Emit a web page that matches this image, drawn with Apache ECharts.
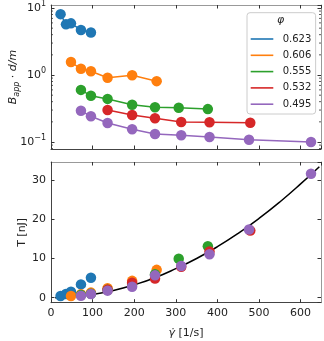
<!DOCTYPE html>
<html>
<head>
<meta charset="utf-8">
<script src="https://cdn.jsdelivr.net/npm/echarts@6/dist/echarts.min.js"></script>
<style>
  html, body { margin: 0; padding: 0; background: #fff; }
  #chart { width: 324px; height: 341px; }
</style>
</head>
<body>
<div id="chart"></div>
<script>
// legend entries (volume fraction phi) and their colours
var phiNames = ['0.623', '0.606', '0.555', '0.532', '0.495'];
var colors = ['#1f77b4', '#ff7f0e', '#2ca02c', '#d62728', '#9467bd'];

// shear rates [1/s] measured for each phi
var rate623 = [23, 36, 48, 72, 96];
var rate606 = [48, 72, 96, 136, 195, 254];
var rate555 = [72, 96, 136, 195, 250, 307, 377];
var rate532 = [136, 195, 250, 313, 381, 479];
var rate495 = [72, 96, 136, 195, 250, 313, 381, 476, 625];

// top panel: B_app * d/m (log scale)
var bapp623 = [8.1, 5.7, 5.9, 4.7, 4.3];
var bapp606 = [1.56, 1.24, 1.14, 0.91, 0.99, 0.81];
var bapp555 = [0.60, 0.49, 0.44, 0.36, 0.33, 0.325, 0.31];
var bapp532 = [0.30, 0.253, 0.226, 0.199, 0.197, 0.194];
var bapp495 = [0.293, 0.242, 0.192, 0.155, 0.132, 0.126, 0.119, 0.108, 0.100];

// bottom panel: T [nJ]
var tens623 = [0.43, 0.94, 1.53, 3.4, 5.1];
var tens606 = [0.43, 0.9, 1.3, 2.4, 4.3, 7.1];
var tens555 = [0.7, 1.0, 2.0, 3.5, 6.0, 9.95, 13.1];
var tens532 = [2.0, 3.8, 4.9, 7.9, 11.8, 17.1];
var tens495 = [0.5, 0.95, 1.8, 2.8, 5.7, 8.1, 11.1, 17.4, 31.6];

// black fit curve
var fitRate = [10, 50, 100, 150, 200, 250, 300, 350, 400, 450, 500, 550, 600, 645];
var fitT = [0, 0.25, 0.85, 1.85, 3.3, 5.1, 7.4, 10.0, 13.0, 16.4, 20.2, 24.4, 29.0, 33.4];

// minor ticks of the log axis
var minorTicks = [0.08, 0.09, 0.2, 0.3, 0.4, 0.5, 0.6, 0.7, 0.8, 0.9, 2, 3, 4, 5, 6, 7, 8, 9];

var rates = [rate623, rate606, rate555, rate532, rate495];
var bapps = [bapp623, bapp606, bapp555, bapp532, bapp495];
var tens = [tens623, tens606, tens555, tens532, tens495];

var font = 'DejaVu Sans';
var dark = '#444';
var light = '#999';

function zip(xs, ys) {
  return xs.map(function (x, i) { return [x, ys[i]]; });
}

function xAx(grid, pos, labels, lineColor) {
  return {
    type: 'value', gridIndex: grid, position: pos, min: 0, max: 649, interval: 100,
    axisLine: { show: true, onZero: false, lineStyle: { color: lineColor, width: 1 } },
    axisTick: { show: true, inside: true, length: 3.5, lineStyle: { color: '#333' } },
    axisLabel: { show: labels, showMaxLabel: false, margin: 5, fontSize: 11, color: '#222', fontFamily: font },
    splitLine: { show: false }
  };
}

function logAx(pos, labels, lineColor) {
  return {
    type: 'log', logBase: 10, gridIndex: 0, position: pos, min: 0.0787, max: 11.09,
    axisLine: { show: true, onZero: false, lineStyle: { color: lineColor, width: 1 } },
    axisTick: { show: true, inside: true, length: 3.5, lineStyle: { color: '#333' } },
    axisLabel: {
      show: labels, showMinLabel: false, showMaxLabel: false, margin: 5,
      formatter: function (v) {
        var e = Math.round(Math.log10(v));
        return '{b|10}{e|' + (e < 0 ? '\u2212' + (-e) : e) + '}';
      },
      rich: {
        b: { fontSize: 11, color: '#222', fontFamily: font, lineHeight: 16 },
        e: { fontSize: 8, color: '#222', fontFamily: font, lineHeight: 9, verticalAlign: 'top' }
      }
    },
    splitLine: { show: false }
  };
}

function linAx(pos, labels, lineColor) {
  return {
    type: 'value', gridIndex: 1, position: pos, min: -1.27, max: 34.59, splitNumber: 4,
    axisLine: { show: true, onZero: false, lineStyle: { color: lineColor, width: 1 } },
    axisTick: { show: true, inside: true, length: 3.5, lineStyle: { color: '#333' } },
    axisLabel: { show: labels, showMinLabel: false, showMaxLabel: false, margin: 5, fontSize: 11, color: '#222', fontFamily: font },
    splitLine: { show: false }
  };
}

var xAxes = [xAx(0, 'bottom', false, dark), xAx(0, 'top', false, light), xAx(1, 'bottom', true, dark), xAx(1, 'top', false, light)];
xAxes[2].name = '{g|\u03b3\u0307}{n| [1/s]}';
xAxes[2].nameLocation = 'middle';
xAxes[2].nameGap = 25;
xAxes[2].nameMoveOverlap = false;
xAxes[2].nameTextStyle = { rich: {
  g: { fontSize: 11, fontStyle: 'italic', fontFamily: font, color: '#222' },
  n: { fontSize: 11, fontFamily: font, color: '#222' }
} };

var yAxes = [logAx('left', true, dark), logAx('right', false, light), linAx('left', true, dark), linAx('right', false, light)];
yAxes[0].name = '{i|B}{s|app}{n| \u00b7 }{i|d/m}';
yAxes[0].nameLocation = 'middle';
yAxes[0].nameRotate = 90;
yAxes[0].nameGap = 30;
yAxes[0].nameMoveOverlap = false;
yAxes[0].nameTextStyle = { rich: {
  i: { fontSize: 11, fontStyle: 'italic', fontFamily: font, color: '#222', lineHeight: 16 },
  s: { fontSize: 8, fontStyle: 'italic', fontFamily: font, color: '#222', lineHeight: 9, verticalAlign: 'bottom' },
  n: { fontSize: 11, fontFamily: font, color: '#222', lineHeight: 16 }
} };
yAxes[2].name = 'T [nJ]';
yAxes[2].nameLocation = 'middle';
yAxes[2].nameRotate = 90;
yAxes[2].nameGap = 23;
yAxes[2].nameMoveOverlap = false;
yAxes[2].nameTextStyle = { fontSize: 11, fontFamily: font, color: '#222' };

var series = [];
// top panel: lines with markers
phiNames.forEach(function (name, k) {
  series.push({
    name: name, type: 'line', xAxisIndex: 0, yAxisIndex: 0,
    data: zip(rates[k], bapps[k]),
    symbol: 'circle', symbolSize: 10.5,
    itemStyle: { color: colors[k] },
    lineStyle: { color: colors[k], width: 1.5 },
    z: 3 + k
  });
});
// bottom panel: fit curve below the points
series.push({
  name: 'fit', type: 'line', xAxisIndex: 2, yAxisIndex: 2,
  data: zip(fitRate, fitT), smooth: true, showSymbol: false, symbol: 'none',
  lineStyle: { color: '#000', width: 1.5 }, z: 2
});
phiNames.forEach(function (name, k) {
  series.push({
    name: name, type: 'scatter', xAxisIndex: 2, yAxisIndex: 2,
    data: zip(rates[k], tens[k]), symbolSize: 10.5,
    itemStyle: { color: colors[k], opacity: 1 },
    z: 3 + k
  });
});
// minor ticks of the log axis, on both sides
series.push({
  name: 'minor', type: 'custom', xAxisIndex: 0, yAxisIndex: 0, silent: true, clip: false,
  data: minorTicks.map(function (v) { return [100, v]; }),
  renderItem: function (params, api) {
    var y = api.coord([100, api.value(1)])[1];
    var cs = params.coordSys;
    return { type: 'group', children: [
      { type: 'line', shape: { x1: cs.x, y1: y, x2: cs.x + 2, y2: y }, style: { stroke: '#333', lineWidth: 0.8 } },
      { type: 'line', shape: { x1: cs.x + cs.width - 2, y1: y, x2: cs.x + cs.width, y2: y }, style: { stroke: '#333', lineWidth: 0.8 } }
    ] };
  },
  z: 1
});

var chart = echarts.init(document.getElementById('chart'), null, { renderer: 'canvas' });
chart.setOption({
  animation: false,
  backgroundColor: '#fff',
  grid: [
    { left: 51, top: 5, width: 270, height: 144, outerBoundsMode: 'none', containLabel: false },
    { left: 51, top: 162, width: 270, height: 140.7, outerBoundsMode: 'none', containLabel: false }
  ],
  xAxis: xAxes,
  yAxis: yAxes,
  legend: {
    data: phiNames, orient: 'vertical', left: 247, top: 12.7,
    icon: 'rect', itemWidth: 22.6, itemHeight: 1.6, itemGap: 4.3,
    padding: [20.3, 4.3, 3.8, 3.7],
    textStyle: { fontSize: 10, lineHeight: 12, color: '#222', fontFamily: font, padding: [0, 0, 0, 4.4] },
    backgroundColor: 'rgba(255,255,255,0.8)', borderColor: '#ccc', borderWidth: 1, borderRadius: 3,
    selectedMode: false
  },
  graphic: [{
    type: 'text', left: 277, top: 15,
    style: { text: '\u03c6', font: 'italic 11px "DejaVu Sans"', fill: '#222' },
    z: 100
  }],
  series: series
});
</script>
</body>
</html>
